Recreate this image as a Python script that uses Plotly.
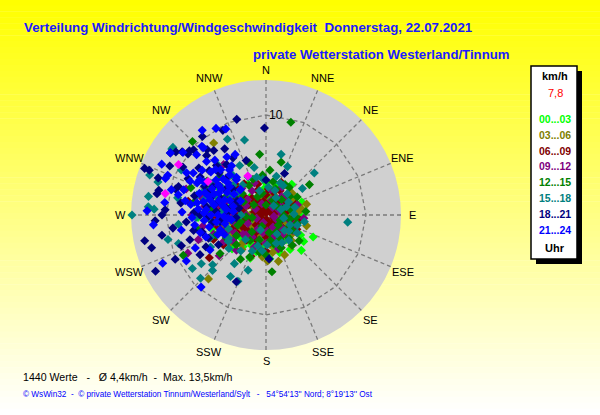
import math
import plotly.graph_objects as go

# ---------------- data (direction in compass degrees, speed km/h) ----------------
directions = ["N", "NNE", "NE", "ENE", "E", "ESE", "SE", "SSE",
              "S", "SSW", "SW", "WSW", "W", "WNW", "NW", "NNW"]
time_classes = ["00...03", "03...06", "06...09", "09...12",
                "12...15", "15...18", "18...21", "21...24"]

lime_dir = [135,140,216,200,250,260,270,280,290,300,310,320,330,340,230,240,220,210,190,170,150,130,120,110,100,90,80,70,60,50,40,20,10,0,265,275,285,295,255,245,235,115,125,160,150,300,275,300,310,201,
            262,272,282,292,248,238,228,205,185,165,145,105,85,65,35,15,355,325,305,288,268,252,225,195,175,
            60,95,125,150,175,20,340,300,250,200,45,80,110,140,165]
lime_spd = [5.0,3.2,3.9,4.6,2.8,4.2,3.6,2.6,3.8,2.8,3.4,2.4,3.6,1.8,3.4,4.4,2.2,3.2,2.4,2.0,3.0,2.2,4.0,3.0,1.8,3.4,2.4,3.8,1.4,2.8,4.0,3.0,1.8,3.2,5.0,5.8,4.8,6.2,5.6,3.8,1.6,5.2,4.6,4.0,1.2,4.2,1.4,5.6,6.0,4.5,
            2.2,4.4,3.2,5.2,3.6,2.6,4.2,3.4,3.0,3.4,4.2,2.6,2.2,3.0,1.6,2.2,2.6,1.4,2.0,6.4,6.8,4.8,4.8,3.8,4.4,
            0.6,1.2,1.8,2.6,0.8,0.5,0.7,1.0,1.2,0.4,2.0,3.0,2.4,1.6,3.2]

olive_dir = [324,222,90,100,110,120,130,140,150,160,170,180,190,200,210,220,230,240,250,260,270,280,290,300,60,70,80,45,30,125,155,175,195,215,235,255,265,140,105,135,165,185,205,95,75,310,20,245,285,170,
             100,118,128,145,158,172,188,198,212,226,238,252,268,278,295,320,340,5,50,85,112,178,232,258,272,
             30,60,90,115,135,150,165,180,210,240,270,330]
olive_spd = [8.9,8.6,2.6,3.4,2.2,3.6,2.8,1.8,3.2,2.4,3.8,1.6,2.8,3.6,2.4,3.8,1.8,3.0,2.2,3.6,1.6,3.0,2.2,1.4,3.0,1.8,3.6,2.6,1.4,1.2,4.4,2.6,1.4,4.2,2.6,4.6,2.6,4.0,4.2,3.6,4.8,4.2,1.0,1.2,4.2,2.6,2.2,1.2,4.4,1.0,
             3.0,2.8,3.2,2.6,3.4,3.0,3.6,2.0,3.0,2.8,3.8,3.2,4.0,2.2,3.2,1.8,1.4,1.2,3.4,3.2,1.8,4.6,4.6,2.8,5.2,
             0.6,2.0,1.6,2.6,2.2,1.2,2.0,0.6,1.2,0.4,0.8,0.8]

maroon_dir = [270,280,290,300,310,320,330,340,350,0,15,30,45,60,75,90,105,120,135,150,165,180,195,210,225,240,255,265,275,285,295,305,260,250,235,233,245,265,280,290,300,270,256,280,200,180,95,70,300,315,25,115,
              262,272,282,292,302,312,248,238,228,218,205,190,172,158,142,128,110,98,82,65,48,35,18,5,345,325,287,277,267,257,
              20,50,80,110,140,170,200,230,260,290,320,350,0,180]
maroon_spd = [3.0,2.4,3.4,2.0,3.0,2.2,1.6,2.6,1.4,2.0,1.2,2.8,1.6,2.2,1.0,1.8,2.6,1.4,2.0,2.8,1.2,2.2,3.0,2.0,1.4,2.6,1.8,4.0,4.6,1.2,4.2,1.0,3.2,4.2,5.2,7.1,5.8,5.4,3.6,5.6,3.8,6.0,2.4,7.9,4.4,3.6,2.8,3.2,6.2,4.0,3.6,3.4,
              2.2,3.8,4.4,2.6,2.8,3.6,3.6,3.4,2.4,3.2,2.6,1.4,2.8,3.0,2.6,2.2,1.6,3.4,2.0,2.6,3.0,1.8,2.4,2.6,3.2,3.8,6.4,5.4,4.8,5.0,
              0.4,1.0,0.6,0.8,1.0,0.5,0.6,0.9,0.6,0.5,0.8,0.6,0.2,1.0]

purple_dir = [72,244,229,250,260,280,275,290,300,310,265,255,240,220,200,180,160,140,120,100,80,60,40,20,350,330,320,285,270,295,270,245,225,210,190,150,115,95,310,340,250,288,
              262,272,282,292,302,252,238,230,212,195,175,165,130,108,88,50,30,10,340,318,278,268,285,248,232,
              40,70,100,130,160,200,250,300]
purple_spd = [3.3,8.7,6.2,5.6,6.4,5.0,3.4,4.2,3.2,4.6,4.6,3.2,3.6,4.6,3.4,2.8,3.6,2.6,3.1,2.2,2.6,1.8,2.4,1.6,2.2,2.8,6.6,6.6,7.4,2.2,2.0,2.0,2.8,1.6,1.8,1.4,1.2,3.8,2.4,1.2,7.2,8.4,
              5.2,5.6,3.0,5.4,5.4,4.8,5.0,3.0,2.6,2.6,1.6,2.4,2.0,3.0,1.6,2.8,3.2,2.6,3.4,3.6,6.2,3.4,4.6,4.0,4.2,
              1.0,1.4,0.8,1.8,2.2,0.8,1.0,1.2]

green_dir = [315,15,354,342,16,55,40,94,128,139,174,180,210,201,244,230,258,280,300,310,290,270,250,285,300,330,350,20,45,70,100,120,150,165,195,220,240,265,275,295,320,340,5,60,110,200,260,310,0,85,
             262,272,282,292,302,312,248,235,225,212,188,170,155,135,115,92,75,52,32,12,355,335,290,270,255,
             25,50,80,105,130,150,170,190]
green_spd = [10.4,9.6,6.1,5.5,5.5,5.3,3.6,3.0,4.2,4.0,5.7,4.0,5.1,4.5,9.2,6.0,7.0,7.3,6.8,6.0,8.0,4.6,3.0,3.5,2.6,3.4,2.2,2.8,2.2,1.8,2.4,3.0,2.0,3.0,2.6,2.2,4.6,2.0,5.6,4.4,4.8,3.8,4.5,3.6,1.5,1.2,1.4,1.6,1.0,4.0,
             3.4,5.8,6.4,5.2,3.6,3.2,5.4,3.6,4.2,3.0,3.6,2.6,3.6,3.2,2.6,1.8,2.8,3.0,3.6,3.4,4.0,2.0,6.2,6.8,2.6,
             1.6,1.4,2.6,3.2,1.6,2.8,1.8,3.8]

teal_dir = [333,344,305,279,270,273,289,306,287,274,256,252,234,233,226,224,227,210,203,198,213,201,186,95,108,14,24,49,54,24,346,346,30,120,100,298,316,281,264,240,160,290,300,275,310,265,250,285,320,335,30,60,75,130,220,235,270,295,345,5,15,
            262,272,282,292,302,312,322,248,238,228,215,195,178,150,138,112,88,68,45,20,355,332,286,268,300,
            40,70,100,125,150,200]
teal_spd = [8.5,7.8,11.5,11.9,13.4,11.2,12.3,11.5,11.3,11.8,10.1,9.2,9.1,8.1,9.1,7.7,7.3,7.1,7.2,5.8,5.8,3.85,3.6,8.2,3.3,6.25,5.3,6.4,4.5,3.5,3.9,4.9,3.4,3.6,3.9,9.6,7.0,9.0,8.8,6.4,3.0,5.2,6.4,4.4,3.6,5.6,4.0,6.3,5.2,4.2,2.0,2.6,3.0,2.4,3.2,4.6,2.5,3.0,2.5,2.8,4.0,
            4.8,6.2,5.4,6.6,5.2,4.4,3.8,6.0,4.4,5.0,4.4,3.2,3.0,3.2,3.4,2.6,2.8,2.2,3.0,2.6,3.6,5.6,7.2,7.0,4.0,
            1.2,1.6,1.8,2.8,2.2,1.6]

navy_dir = [343,359,333,321,312,321,307,308,303,315,328,291,289,281,305,310,291,283,270,273,267,259,258,254,244,243,239,204,176,0,24,297,300,286,262,250,295,285,278,302,290,270,312,265,280,296,308,274,255,318,288,300,284,262,
            262,272,282,292,302,312,322,248,238,278,288,298,268,258,308,285,295,275,265,305,315,252,242,330,340]
navy_spd = [10.0,8.7,9.5,10.1,9.75,8.3,10.5,9.9,11.4,8.4,7.8,12.5,11.4,11.1,11.0,10.0,13.0,11.0,10.4,10.1,11.1,10.6,12.4,11.9,10.1,12.4,7.7,7.3,4.4,3.5,4.55,10.8,9.6,9.4,9.4,9.0,6.8,7.4,6.0,5.6,4.8,6.6,6.3,8.0,4.0,3.2,4.2,5.0,6.6,8.8,9.2,7.6,2.8,4.6,
            5.4,7.2,5.2,6.2,4.8,5.4,6.4,6.2,5.6,8.6,5.8,6.0,5.8,7.4,7.2,3.4,8.6,3.8,3.0,8.2,7.0,8.0,6.8,6.6,5.8]

blue_dir = [323,330,335,317,311,290,292,272,303,307,317,333,265,245,240,222,298,285,296,277,300,287,298,285,252,262,321,317,280,314,290,295,305,275,270,282,300,310,288,278,265,258,292,308,320,312,283,272,260,296,287,303,268,276,250,245,294,326,315,281,299,262,
            262,272,282,292,302,312,322,248,238,268,278,288,298,308,318,258,265,275,285,295,305,315,255,245,290,280,300,270,310,325]
blue_spd = [10.6,10.0,9.5,9.2,9.2,10.7,10.6,11.9,11.4,10.4,9.4,6.8,11.3,11.4,9.2,9.7,9.0,9.8,11.6,10.2,8.4,8.6,7.5,5.8,4.8,7.2,5.8,7.5,8.2,3.6,6.5,5.2,6.1,6.8,5.5,4.4,4.5,5.0,7.0,7.6,6.2,5.8,3.9,7.0,4.6,8.0,9.0,8.4,8.6,6.0,4.9,3.8,4.2,3.3,6.4,7.8,8.3,7.0,6.4,5.3,2.9,3.5,
            5.0,6.2,6.4,5.6,5.6,6.8,4.8,5.2,6.6,7.4,4.0,6.0,7.0,4.6,5.4,4.2,3.8,6.0,3.4,7.6,7.8,3.6,6.8,4.6,4.4,7.0,5.2,4.8,5.6,6.0]

magenta_dir = [300, 282, 335, 300]
magenta_spd = [10.1, 10.3, 4.3, 6.7]

series = [
    (lime_dir, lime_spd, "#00ff00"),
    (olive_dir, olive_spd, "#808000"),
    (maroon_dir, maroon_spd, "#800000"),
    (purple_dir, purple_spd, "#800080"),
    (green_dir, green_spd, "#008000"),
    (teal_dir, teal_spd, "#008080"),
    (navy_dir, navy_spd, "#000080"),
    (blue_dir, blue_spd, "#0000ff"),
    (magenta_dir, magenta_spd, "#ff00ff"),
]
legend_colors = ["#00ff00", "#808000", "#800000", "#800080",
                 "#008000", "#008080", "#000080", "#0000ff"]

RMAX = 13.5
RING = 10
SPOKE_START = 3.3

W, H = 600, 415
cx, cy, R = 266, 215, 135

fig = go.Figure()

# grid: dashed spokes and polygon ring
angles = [i * 22.5 for i in range(16)]
for a in angles:
    fig.add_trace(go.Scatterpolar(r=[SPOKE_START, RMAX], theta=[a, a], mode="lines",
                                  line=dict(color="#7a7a7a", width=1.3, dash="4px,3px"),
                                  hoverinfo="skip", showlegend=False))
fig.add_trace(go.Scatterpolar(r=[RING] * 17, theta=angles + [0], mode="lines",
                              line=dict(color="#7a7a7a", width=1.3, dash="4px,3px"),
                              hoverinfo="skip", showlegend=False))

for d, s, c in series:
    fig.add_trace(go.Scatterpolar(r=s, theta=d, mode="markers",
                                  marker=dict(symbol="diamond", size=7, color=c, line=dict(width=0)),
                                  showlegend=False))

# background gradient
shapes = []
N = 70
for i in range(N):
    t = i / (N - 1)
    b = int(round(255 * t))
    shapes.append(dict(type="rect", xref="paper", yref="paper",
                       x0=0, x1=1, y0=1 - (i + 1) / N, y1=1 - i / N + 0.001,
                       fillcolor=f"rgb(255,255,{b})", line=dict(width=0), layer="below"))

def px(x):
    return x / W
def py(y):
    return 1 - y / H

# legend box with shadow
shapes.append(dict(type="rect", xref="paper", yref="paper", x0=px(536), x1=px(582), y0=py(264), y1=py(71),
                   fillcolor="black", line=dict(width=0), layer="above"))
shapes.append(dict(type="rect", xref="paper", yref="paper", x0=px(531), x1=px(577), y0=py(259), y1=py(66),
                   fillcolor="white", line=dict(color="black", width=1.5), layer="above"))

ann = []
font_main = "Liberation Sans, Arial, sans-serif"
ann.append(dict(text="<b>Verteilung Windrichtung/Windgeschwindigkeit  Donnerstag, 22.07.2021</b>",
                x=px(22), y=py(28), xanchor="left", yanchor="middle", showarrow=False,
                font=dict(family=font_main, size=13.3, color="#1a1aff")))
ann.append(dict(text="<b>private Wetterstation Westerland/Tinnum</b>",
                x=px(251), y=py(55), xanchor="left", yanchor="middle", showarrow=False,
                font=dict(family=font_main, size=13.2, color="#1a1aff")))
ann.append(dict(text="1440 Werte   -   Ø 4,4km/h  -  Max. 13,5km/h",
                x=px(21), y=py(377), xanchor="left", yanchor="middle", showarrow=False,
                font=dict(family=font_main, size=10.6, color="black")))
ann.append(dict(text="© WsWin32  -  © private Wetterstation Tinnum/Westerland/Sylt   -   54°54'13'' Nord; 8°19'13'' Ost",
                x=px(21), y=py(394), xanchor="left", yanchor="middle", showarrow=False,
                font=dict(family=font_main, size=8.2, color="#0000ff")))
ann.append(dict(text="10", x=px(276), y=py(115), xanchor="center", yanchor="middle", showarrow=False,
                font=dict(family=font_main, size=12, color="black")))

# compass labels around the dial
for a, lab in zip(angles, directions):
    rr = 146 if lab in ("N", "S", "E", "W") else 148
    xx = cx + rr * math.sin(math.radians(a))
    yy = cy - rr * math.cos(math.radians(a))
    if lab == "N":
        yy = 70
    ann.append(dict(text=lab, x=px(xx), y=py(yy), xanchor="center", yanchor="middle", showarrow=False,
                    font=dict(family=font_main, size=11, color="black")))

lx = px(555)
ann.append(dict(text="<b>km/h</b>", x=lx, y=py(76), xanchor="center", yanchor="middle", showarrow=False,
                font=dict(family=font_main, size=11, color="black")))
ann.append(dict(text="7,8", x=lx, y=py(93), xanchor="center", yanchor="middle", showarrow=False,
                font=dict(family=font_main, size=11, color="#ff0000")))
for k, (lab, col) in enumerate(zip(time_classes, legend_colors)):
    ann.append(dict(text=f"<b>{lab}</b>", x=lx, y=py(119 + k * 15.8), xanchor="center", yanchor="middle",
                    showarrow=False, font=dict(family=font_main, size=10.5, color=col)))
ann.append(dict(text="<b>Uhr</b>", x=lx, y=py(248), xanchor="center", yanchor="middle", showarrow=False,
                font=dict(family=font_main, size=11, color="black")))

fig.update_layout(
    width=W, height=H, margin=dict(l=0, r=0, t=0, b=0),
    paper_bgcolor="#ffffff", showlegend=False,
    shapes=shapes, annotations=ann,
    polar=dict(
        domain=dict(x=[(cx - R) / W, (cx + R) / W], y=[1 - (cy + R) / H, 1 - (cy - R) / H]),
        bgcolor="#d0d0d0",
        angularaxis=dict(rotation=90, direction="clockwise", showgrid=False, showline=False,
                         ticks="", showticklabels=False),
        radialaxis=dict(range=[0, RMAX], showgrid=False, showline=False, ticks="",
                        showticklabels=False),
    ),
)

fig.write_html("out.html", config={"displayModeBar": False},
               post_script="document.body.style.margin='0';document.body.style.overflow='hidden';")
